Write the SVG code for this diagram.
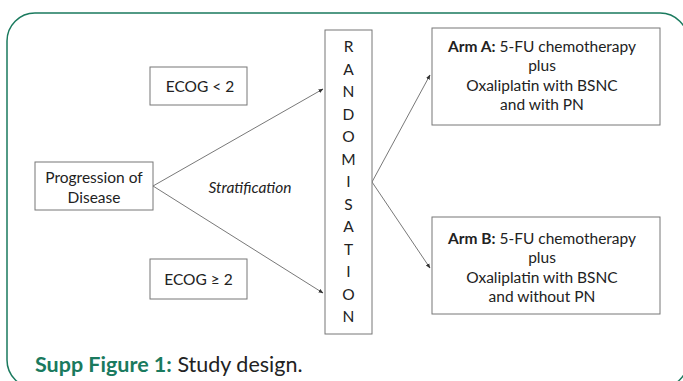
<svg xmlns="http://www.w3.org/2000/svg" width="683" height="381" viewBox="0 0 683 381">
<style>
.box{fill:#fff;stroke:#777;stroke-width:1}
.t{font-family:Lato,"Open Sans","Liberation Sans",sans-serif;font-size:15.5px;fill:#222;text-anchor:middle}
.b{font-weight:bold}
.ln{stroke:#555;stroke-width:0.8;fill:none;marker-end:url(#ah)}
</style>
<defs>
<marker id="ah" viewBox="0 0 10 10" refX="9" refY="5" markerWidth="5" markerHeight="5" orient="auto" markerUnits="userSpaceOnUse">
<path d="M0,1 L10,5 L0,9 z" fill="#333"/>
</marker>
</defs>
<rect width="683" height="381" fill="#fff"/>
<rect x="7" y="13" width="681" height="375" rx="28" ry="28" fill="none" stroke="#1a7a5e" stroke-width="1.5"/>
<g id="connectors">
<line class="ln" x1="153" y1="186" x2="323" y2="89"/>
<line class="ln" x1="153" y1="186" x2="323" y2="293"/>
<line class="ln" x1="372" y1="182" x2="430" y2="75"/>
<line class="ln" x1="372" y1="182" x2="430" y2="268"/>
</g>
<g id="ecog-lt">
<rect class="box" x="150" y="67" width="97" height="38"/>
<text class="t" x="200" y="92">ECOG &lt; 2</text>
</g>
<g id="progression">
<rect class="box" x="35" y="162" width="118" height="48"/>
<text class="t" x="94" y="183">Progression of</text>
<text class="t" x="94" y="203">Disease</text>
</g>
<g id="ecog-ge">
<rect class="box" x="150" y="259" width="97" height="40"/>
<text class="t" x="198.5" y="285">ECOG ≥ 2</text>
</g>
<text class="t" x="250" y="193" font-style="italic" font-size="16">Stratification</text>
<g id="randomisation">
<rect class="box" x="325" y="30" width="47" height="304"/>
<text class="t" x="348.5" y="52">R</text>
<text class="t" x="348.5" y="74.5">A</text>
<text class="t" x="348.5" y="97">N</text>
<text class="t" x="348.5" y="119.5">D</text>
<text class="t" x="348.5" y="142">O</text>
<text class="t" x="348.5" y="164.5">M</text>
<text class="t" x="348.5" y="187">I</text>
<text class="t" x="348.5" y="209.5">S</text>
<text class="t" x="348.5" y="232">A</text>
<text class="t" x="348.5" y="254.5">T</text>
<text class="t" x="348.5" y="277">I</text>
<text class="t" x="348.5" y="299.5">O</text>
<text class="t" x="348.5" y="322">N</text>
</g>
<g id="arm-a">
<rect class="box" x="432" y="28" width="228" height="97"/>
<text class="t" x="542" y="52"><tspan class="b">Arm A:</tspan> 5-FU chemotherapy</text>
<text class="t" x="542" y="71">plus</text>
<text class="t" x="542" y="90.5">Oxaliplatin with BSNC</text>
<text class="t" x="542" y="109.5">and with PN</text>
</g>
<g id="arm-b">
<rect class="box" x="432" y="217" width="228" height="97"/>
<text class="t" x="542" y="244"><tspan class="b">Arm B:</tspan> 5-FU chemotherapy</text>
<text class="t" x="542" y="263">plus</text>
<text class="t" x="542" y="283">Oxaliplatin with BSNC</text>
<text class="t" x="542" y="302">and without PN</text>
</g>
<text x="35" y="372" font-family="Lato,'Open Sans','Liberation Sans',sans-serif" font-size="21.5" fill="#222"><tspan font-weight="bold" fill="#1a7a5e">Supp Figure 1:</tspan> Study design.</text>
</svg>
